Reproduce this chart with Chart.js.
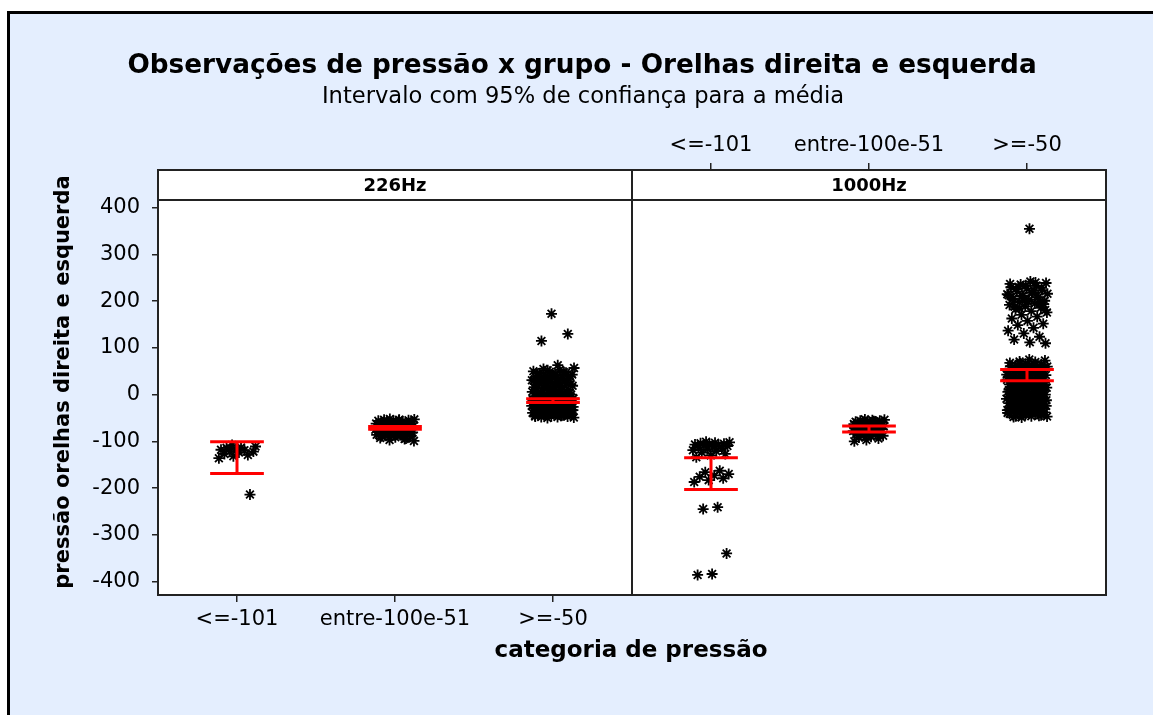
<!DOCTYPE html>
<html>
<head>
<meta charset="utf-8">
<script src="https://cdn.jsdelivr.net/npm/chart.js@4.4.0/dist/chart.umd.min.js"></script>
<style>
html, body { margin: 0; padding: 0; background: #fff; overflow: hidden; }
#frame { position: absolute; left: 7px; top: 11px; width: 1146px; height: 704px; box-sizing: border-box;
         background: #e4eefe; border-top: 3px solid #000; border-left: 3px solid #000; }
#chart { position: absolute; left: 0; top: 0; }
</style>
</head>
<body>
<div id="frame"></div>
<canvas id="chart" width="1153" height="715"></canvas>
<script>
// categories / panels / ticks
const categories = ['<=-101', 'entre-100e-51', '>=-50'];
const panels = ['226Hz', '1000Hz'];
const yTicks = [-400, -300, -200, -100, 0, 100, 200, 300, 400];

const hz226Low = [-108, -111, -113, -114, -214, -116, -118, -119, -121, -122, -124, -127, -129, -132, -136];

const hz226Mid = [-52, -53, -54, -54, -55, -56, -56, -57, -58, -58, -59, -60, -60, -61, -62, -62, -63, -63,
    -64, -65, -65, -66, -67, -67, -68, -69, -69, -70, -70, -71, -72, -72, -73, -74, -74, -75, -76, -76, -77,
    -78, -79, -79, -80, -81, -82, -83, -84, -85, -86, -87, -88, -90, -91, -93, -95, -97, -99,
    -55, -59, -63, -66, -71, -75, -78, -82, -86, -89, -94];

const hz226High = [-50, -49, -48, -48, -47, -46, -45, -45, -44, -43, -42, -42, -41, -40, -39, -39, -38, -37,
    -36, -36, -35, -34, -33, -33, -32, -31, -30, -30, -29, -28, -27, -27, -26, -25, -24, -24, -23, -22, -21,
    -21, -20, -19, -18, -18, -17, -16, -15, -15, -14, -13, -12, -12, -11, -10, -9, -9, -8, -7, -6, -5, -4,
    -3, -2, -1, 0, 1, 2, 3, 5, 6, 7, 9, 10, 12, 13, 15, 17, 19, 21, 23, 25, 28, 30, 33, 36, 39, 42, 45, 48,
    52, 57, 63, 115, 130, 173, -47, -43, -38, -34, -29, -25, -20, -16, -11, -7, -3, 2, 8, 14,
    -44, -35, -26, -17, -8, 4, 11, 16, 18, 20, 22, 24, 26, 27, 29, 31, 32, 34, 35, 37, 38, 40, 41, 43, 44,
    46, 47, 49, 50, 53, 55];

const hz1000Low = [-101, -102, -103, -104, -105, -106, -107, -108, -109, -110, -112, -113, -115, -117, -119,
    -121, -124, -127, -130, -134, -163, -166, -170, -173, -176, -179, -183, -187, -241, -245, -340, -384, -386];

const hz1000Mid = [-53, -54, -55, -56, -56, -57, -58, -58, -59, -60, -60, -61, -62, -62, -63, -64, -64, -65,
    -66, -66, -67, -68, -68, -69, -70, -70, -71, -72, -72, -73, -74, -75, -75, -76, -77, -78, -79, -80, -81,
    -82, -84, -85, -87, -88, -90, -92, -94, -97, -100, -57, -61, -65, -69, -73, -77, -83];

const hz1000High = [-49, -47, -46, -46, -44, -43, -41, -41, -40, -38, -37, -37, -35, -34, -33, -31, -31, -30,
    -28, -27, -26, -26, -24, -23, -21, -20, -20, -18, -17, -16, -14, -14, -13, -11, -10, -9, -8, -7, -5, -5,
    -4, -2, -1, 0, 1, 2, 4, 4, 6, 7, 8, 9, 11, 12, 12, 14, 15, 17, 18, 19, 20, 22, 23, 24, 25, 27, 28, 29,
    31, 32, 33, 34, 36, 37, 38, 40, 41, 42, 44, 45, 46, 48, 49, 51, 52, 53, 55, 56, 58, 59, 60, 62, 63, 65,
    66, 68, 70, 71, 73, 75, -48, -45, -42, -39, -36, -32, -29, -25, -22, -19, -15, -12, -6, -3, 3, 5, 10,
    13, 16, 21, 26, 30, 35, 39, 43, 47, 50, 54, 57, 61, 64, 67,
    110, 112, 118, 124, 131, 137, 143, 149, 152, 158, 163, 167, 171, 176, 179, 183, 186, 189, 192, 195, 198,
    201, 203, 206, 209, 212, 215, 218, 221, 224, 227, 230, 233, 236, 239, 242, 188, 196, 205, 213, 222, 231,
    194, 199, 204, 208, 211, 216, 219, 226, 229, 234, 237, 240, 185, 181, 355];

// 95% CI for the mean (per category)
const ciLow226 = [-169, -74, -17];
const ciHigh226 = [-101, -68, -9];
const ciLow1000 = [-203, -80, 30];
const ciHigh1000 = [-135, -67, 54];

const FONT = 'DejaVu Sans';

// panel, category, values, jitter half-width (in category units)
const groups = [
    {panel: 0, cat: 0, values: hz226Low, spread: 0.12},
    {panel: 0, cat: 1, values: hz226Mid, spread: 0.125},
    {panel: 0, cat: 2, values: hz226High, spread: 0.135},
    {panel: 1, cat: 0, values: hz1000Low, spread: 0.12},
    {panel: 1, cat: 1, values: hz1000Mid, spread: 0.10},
    {panel: 1, cat: 2, values: hz1000High, spread: 0.13}
];
const ciLow = [ciLow226, ciLow1000];
const ciHigh = [ciHigh226, ciHigh1000];

const centerOf = (panel, cat) => panel * 3 + cat + 0.5;

// spread points sideways like the jittered individual value plot
const jitter = (i, spread) => (((i * 0.6180339887 + 0.37) % 1) - 0.5) * 2 * spread;

const datasets = [];
groups.forEach(g => {
    const c = centerOf(g.panel, g.cat);
    datasets.push({
        data: g.values.map((v, i) => ({x: c + jitter(i, g.spread), y: v})),
        pointStyle: 'star',
        pointRadius: 5.5,
        borderColor: '#000',
        borderWidth: 1.8,
        order: 1
    });
    // interval bar: top cap, stem, bottom cap
    const lo = ciLow[g.panel][g.cat], hi = ciHigh[g.panel][g.cat], w = 0.17;
    [[[c - w, hi], [c + w, hi]], [[c, hi], [c, lo]], [[c - w, lo], [c + w, lo]]].forEach(seg => {
        datasets.push({
            data: seg.map(p => ({x: p[0], y: p[1]})),
            showLine: true,
            pointRadius: 0,
            borderColor: '#ff0000',
            borderWidth: 3,
            order: 0
        });
    });
});

const tickFont = {family: FONT, size: 21};

const framePlugin = {
    id: 'frame',
    beforeDraw(chart){
        const {ctx, chartArea: a} = chart;
        ctx.save();
        ctx.fillStyle = '#fff';
        ctx.fillRect(a.left, a.top, a.right - a.left, a.bottom - a.top);
        ctx.restore();
    },
    afterDraw(chart){
        const {ctx, chartArea: a, scales} = chart;
        const split = scales.x.getPixelForValue(3);
        const stripBottom = a.top + 30;
        ctx.save();
        ctx.strokeStyle = '#222';
        ctx.lineWidth = 2;
        ctx.strokeRect(a.left, a.top, a.right - a.left, a.bottom - a.top);
        ctx.beginPath();
        ctx.moveTo(a.left, stripBottom);
        ctx.lineTo(a.right, stripBottom);
        ctx.moveTo(split, a.top);
        ctx.lineTo(split, a.bottom);
        ctx.stroke();

        ctx.fillStyle = '#000';
        ctx.textAlign = 'center';
        ctx.textBaseline = 'middle';
        ctx.font = 'bold 18px "' + FONT + '"';
        panels.forEach((p, i) => ctx.fillText(p, scales.x.getPixelForValue(i * 3 + 1.5), a.top + 16));

        ctx.font = 'bold 26.3px "' + FONT + '"';
        ctx.fillText('Observações de pressão x grupo - Orelhas direita e esquerda', 582, 66);
        ctx.font = '22.6px "' + FONT + '"';
        ctx.fillText('Intervalo com 95% de confiança para a média', 583, 97);
        ctx.font = 'bold 23px "' + FONT + '"';
        ctx.fillText('categoria de pressão', 631, 651);

        ctx.translate(64, 382);
        ctx.rotate(-Math.PI / 2);
        ctx.font = 'bold 21px "' + FONT + '"';
        ctx.fillText('pressão orelhas direita e esquerda', 0, 0);
        ctx.restore();
    }
};

const xAxis = (position, values, height) => ({
    type: 'linear',
    position: position,
    min: 0,
    max: 6,
    afterBuildTicks: s => { s.ticks = values.map(v => ({value: v})); },
    afterFit: s => { s.height = height; },
    ticks: {callback: (v, i) => categories[i], font: tickFont, color: '#000', padding: 5,
            maxRotation: 0, autoSkip: false},
    grid: {drawOnChartArea: false, tickLength: 7, color: '#222', lineWidth: 1.5},
    border: {display: false}
});

new Chart(document.getElementById('chart'), {
    type: 'scatter',
    data: {datasets: datasets},
    options: {
        responsive: false,
        animation: false,
        events: [],
        layout: {padding: {left: 0, right: 47, top: 0, bottom: 0}},
        plugins: {legend: {display: false}, tooltip: {enabled: false}},
        scales: {
            x: xAxis('bottom', [0.5, 1.5, 2.5], 120),
            x2: xAxis('top', [3.5, 4.5, 5.5], 170),
            y: {
                type: 'linear',
                min: -429,
                max: 481,
                afterBuildTicks: s => { s.ticks = yTicks.map(v => ({value: v})); },
                afterFit: s => { s.width = 158; },
                ticks: {font: tickFont, color: '#000', padding: 12},
                grid: {drawOnChartArea: false, tickLength: 6, color: '#222', lineWidth: 1.5},
                border: {display: false}
            }
        }
    },
    plugins: [framePlugin]
});
</script>
</body>
</html>
